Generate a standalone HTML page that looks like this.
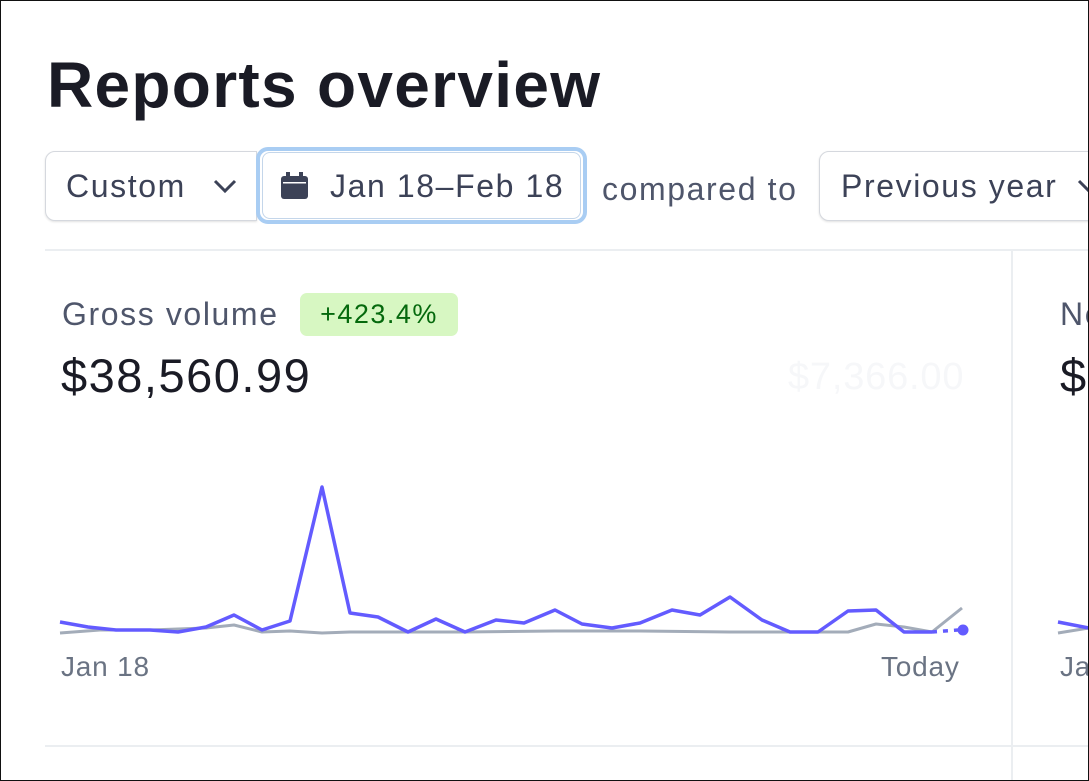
<!DOCTYPE html>
<html><head><meta charset="utf-8"><style>
*{margin:0;padding:0;box-sizing:border-box}
body{width:1089px;height:781px;overflow:hidden;background:#fff;font-family:"Liberation Sans",sans-serif;position:relative;color:#1a1f36}
.frame{position:absolute;left:0;top:0;width:1089px;height:781px;border:1px solid #111;pointer-events:none}
.a{position:absolute;white-space:nowrap}
.btn{position:absolute;border:1px solid #d5d8de;border-radius:10px;background:#fff;box-shadow:0 1px 2px rgba(0,0,0,.12)}
.t{font-size:32px;letter-spacing:1.6px}
</style></head><body>
<div class="a" style="left:47px;top:48px;font-size:64px;font-weight:bold;color:#1a1b25;letter-spacing:1.3px">Reports overview</div>
<div class="btn" style="left:45px;top:151px;width:212px;height:70px;border-radius:10px 0 0 10px"></div>
<div class="a t" style="left:66px;top:168px;color:#3c4257">Custom</div>
<svg class="a" style="left:212px;top:177px" width="26" height="18"><path d="M3 4 L13 14 L23 4" stroke="#3c4257" stroke-width="3" fill="none"/></svg>
<div class="btn" style="left:256px;top:147px;width:331px;height:77px;border:4px solid #a9cdf3;border-radius:12px;box-shadow:none"></div>
<div class="a" style="left:262px;top:152px;width:319px;height:67px;border:1px solid #c4d6ea;border-radius:8px"></div>
<svg class="a" style="left:280px;top:171px" width="30" height="30"><rect x="1" y="5" width="27" height="23" rx="3" fill="#3c4257"/><rect x="6" y="1" width="4" height="7" fill="#3c4257"/><rect x="19" y="1" width="4" height="7" fill="#3c4257"/><rect x="3" y="11" width="23" height="1.5" fill="#fff"/></svg>
<div class="a t" style="left:330px;top:168px;color:#3c4257">Jan 18–Feb 18</div>
<div class="a t" style="left:602px;top:171px;color:#4f566b">compared to</div>
<div class="btn" style="left:819px;top:151px;width:290px;height:70px"></div>
<div class="a t" style="left:841px;top:168px;color:#3c4257">Previous year</div>
<svg class="a" style="left:1076px;top:177px" width="26" height="18"><path d="M3 4 L13 14 L23 4" stroke="#3c4257" stroke-width="3" fill="none"/></svg>
<div class="a" style="left:45px;top:249px;width:1044px;height:2px;background:#ebeef1"></div>
<div class="a" style="left:45px;top:745px;width:1044px;height:2px;background:#ebeef1"></div>
<div class="a" style="left:1011px;top:250px;width:2px;height:531px;background:#ebeef1"></div>
<div class="a t" style="left:62px;top:296px;color:#4f566b">Gross volume</div>
<div class="a" style="left:300px;top:293px;width:158px;height:43px;background:#d7f7c2;border-radius:7px;color:#05690d;font-size:27px;letter-spacing:1.5px;line-height:43px;text-align:center">+423.4%</div>
<div class="a" style="left:61px;top:348px;font-size:47px;letter-spacing:1.5px;color:#1a1b25">$38,560.99</div>
<div class="a" style="left:788px;top:356px;font-size:38px;letter-spacing:0.8px;color:#f6f7f9">$7,366.00</div>
<div class="a t" style="left:1060px;top:296px;color:#4f566b">Ne</div>
<div class="a" style="left:1060px;top:348px;font-size:47px;color:#1a1b25">$</div>
<div class="a" style="left:1060px;top:651px;font-size:28px;letter-spacing:0.8px;color:#6a7383">Ja</div>
<svg class="a" style="left:0;top:0" width="1089" height="781">
<polyline fill="none" stroke="#a3acb9" stroke-width="3" stroke-linejoin="round" points="60,633 100,630 150,630 206,628 234,625 262,632 290,631 322,633 350,632 408,632 465,632 555,631 640,631 730,632 818,632 848,632 876,624 904,627 932,632 962,608"/>
<polyline fill="none" stroke="#a3acb9" stroke-width="3" points="1058,633 1089,628"/>
<polyline fill="none" stroke="#635bff" stroke-width="3.5" stroke-linejoin="round" points="60,622 88,627 116,630 150,630 178,632 206,627 234,615 262,630 290,621 322,487 350,613 378,617 408,632 436,619 465,632 496,620 524,623 555,610 582,624 612,628 640,623 672,610 700,615 730,597 762,620 790,632 818,632 848,611 876,610 904,632 932,632"/>
<line x1="932" y1="632" x2="958" y2="630" stroke="#635bff" stroke-width="3.5" stroke-dasharray="5,6"/>
<circle cx="963" cy="630" r="5.5" fill="#635bff"/>
<polyline fill="none" stroke="#635bff" stroke-width="3.5" points="1058,622 1089,628"/>
</svg>
<div class="a" style="left:61px;top:651px;font-size:28px;letter-spacing:0.8px;color:#6a7383">Jan 18</div>
<div class="a" style="left:881px;top:651px;font-size:28px;letter-spacing:0.8px;color:#6a7383">Today</div>
<div class="frame"></div>
</body></html>
